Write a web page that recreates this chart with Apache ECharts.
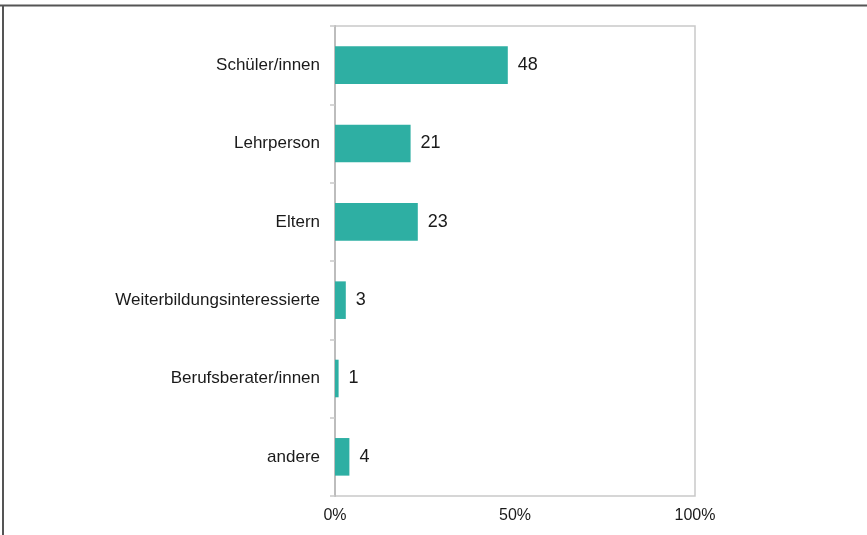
<!DOCTYPE html>
<html>
<head>
<meta charset="utf-8">
<script src="https://cdn.jsdelivr.net/npm/echarts@6/dist/echarts.min.js"></script>
<style>
html,body{margin:0;padding:0;background:#fff;}
#chart{width:867px;height:535px;}
</style>
</head>
<body>
<div id="chart"></div>
<script>
const categories = ["Schüler/innen", "Lehrperson", "Eltern", "Weiterbildungsinteressierte", "Berufsberater/innen", "andere"];
const values = [48, 21, 23, 3, 1, 4];
const xTicks = [0, 50, 100];

const chart = echarts.init(document.getElementById('chart'), null, {renderer: 'canvas'});
const font = 'Liberation Sans, Arial, sans-serif';
chart.setOption({
  animation: false,
  backgroundColor: '#ffffff',
  grid: {
    left: 335, right: 172, top: 26, bottom: 39,
    show: true, borderColor: '#c9c9c9', borderWidth: 1.5
  },
  xAxis: {
    type: 'value', min: xTicks[0], max: xTicks[xTicks.length - 1], interval: xTicks[1] - xTicks[0],
    axisLabel: { formatter: '{value}%', color: '#1a1a1a', fontSize: 16, fontFamily: font, margin: 12 },
    axisLine: { show: false },
    axisTick: { show: false },
    splitLine: { show: false }
  },
  yAxis: {
    type: 'category', data: categories, inverse: true,
    axisLabel: { color: '#1a1a1a', fontSize: 17, fontFamily: font, margin: 15 },
    axisLine: { show: true, lineStyle: { color: '#bdbdbd', width: 2 } },
    axisTick: { show: true, length: 5, lineStyle: { color: '#c9c9c9', width: 1.5 } },
    splitLine: { show: false }
  },
  series: [{
    type: 'bar',
    data: values,
    barWidth: '48%',
    itemStyle: { color: '#2eafa3' },
    label: {
      show: true, position: 'right', distance: 10,
      color: '#1a1a1a', fontSize: 18, fontFamily: font
    }
  }],
  graphic: [
    { type: 'line', shape: { x1: 0, y1: 5.5, x2: 867, y2: 5.5 }, style: { stroke: '#555555', lineWidth: 2 } },
    { type: 'line', shape: { x1: 3, y1: 5, x2: 3, y2: 535 }, style: { stroke: '#555555', lineWidth: 2 } }
  ]
});
</script>
</body>
</html>
